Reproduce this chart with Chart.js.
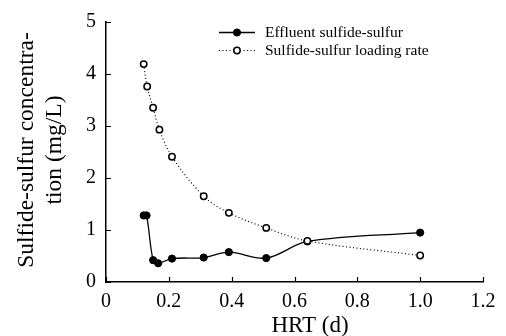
<!DOCTYPE html>
<html>
<head>
<meta charset="utf-8">
<script src="https://cdn.jsdelivr.net/npm/chart.js@4/dist/chart.umd.min.js"></script>
<style>
html,body{margin:0;padding:0;background:#fff;}
#wrap{width:506px;height:336px;position:relative;}
</style>
</head>
<body>
<div id="wrap"><canvas id="c" width="506" height="336"></canvas></div>
<script>
const effluentHRT = [0.120, 0.129, 0.150, 0.166, 0.210, 0.311, 0.391, 0.510, 0.641, 1.000];
const effluentS   = [1.28, 1.28, 0.42, 0.36, 0.45, 0.47, 0.575, 0.46, 0.78, 0.95];
const loadingHRT  = [0.120, 0.131, 0.150, 0.170, 0.210, 0.311, 0.391, 0.510, 0.641, 1.000];
const loadingS    = [4.19, 3.76, 3.35, 2.93, 2.41, 1.65, 1.33, 1.04, 0.79, 0.51];
const xTicks = [0, 0.2, 0.4, 0.6, 0.8, 1.0, 1.2];
const yTicks = [0, 1, 2, 3, 4, 5];
const seriesNames = ['Effluent sulfide-sulfur', 'Sulfide-sulfur loading rate'];
const xTitle = 'HRT (d)';
const yTitle = ['Sulfide-sulfur concentra-', 'tion (mg/L)'];

const FONT = '"Liberation Serif", "Times New Roman", serif';

const pts = (xs, ys) => xs.map((x, i) => ({x: x, y: ys[i]}));

const extras = {
  id: 'extras',
  afterDraw(chart) {
    const ctx = chart.ctx;
    const xs = chart.scales.x, ys = chart.scales.y;
    const a = chart.chartArea;
    ctx.save();
    // inward ticks
    ctx.strokeStyle = '#000';
    ctx.lineWidth = 1.2;
    ctx.beginPath();
    xTicks.forEach(v => {
      const p = Math.round(xs.getPixelForValue(v)) + 0.5;
      ctx.moveTo(p, a.bottom); ctx.lineTo(p, a.bottom - 5);
    });
    yTicks.forEach(v => {
      const p = Math.round(ys.getPixelForValue(v)) + 0.5;
      ctx.moveTo(a.left, p); ctx.lineTo(a.left + 5, p);
    });
    ctx.stroke();

    // legend
    const ds = chart.data.datasets;
    const rows = [32, 50];
    ds.forEach((d, i) => {
      const y = rows[i];
      ctx.save();
      ctx.strokeStyle = d.borderColor;
      ctx.lineWidth = d.borderWidth;
      ctx.setLineDash(d.borderDash || []);
      ctx.beginPath();
      ctx.moveTo(219, y + 0.5); ctx.lineTo(255, y + 0.5);
      ctx.stroke();
      ctx.setLineDash([]);
      ctx.beginPath();
      ctx.arc(237, y + 0.5, d.pointRadius, 0, Math.PI * 2);
      ctx.fillStyle = d.pointBackgroundColor;
      ctx.fill();
      ctx.lineWidth = d.pointBorderWidth;
      ctx.strokeStyle = d.pointBorderColor;
      ctx.stroke();
      ctx.restore();
      ctx.fillStyle = '#000';
      ctx.font = '15.5px ' + FONT;
      ctx.textBaseline = 'middle';
      ctx.textAlign = 'left';
      ctx.fillText(d.label, 265, y + 1);
    });

    // axis titles
    ctx.fillStyle = '#000';
    ctx.font = '23px ' + FONT;
    ctx.textAlign = 'center';
    ctx.textBaseline = 'alphabetic';
    ctx.fillText(xTitle, 310, 331.5);
    ctx.font = '23.5px ' + FONT;
    ctx.save();
    ctx.translate(33, 150);
    ctx.rotate(-Math.PI / 2);
    ctx.fillText(yTitle[0], 0, 0);
    ctx.restore();
    ctx.save();
    ctx.translate(61, 150);
    ctx.rotate(-Math.PI / 2);
    ctx.fillText(yTitle[1], 0, 0);
    ctx.restore();
    ctx.restore();
  }
};

new Chart(document.getElementById('c'), {
  type: 'line',
  data: {
    datasets: [
      {
        label: seriesNames[0],
        data: pts(effluentHRT, effluentS),
        borderColor: '#000',
        borderWidth: 1.3,
        pointRadius: 3.6,
        pointBackgroundColor: '#000',
        pointBorderColor: '#000',
        pointBorderWidth: 1,
        tension: 0.35,
        order: 1
      },
      {
        label: seriesNames[1],
        data: pts(loadingHRT, loadingS),
        borderColor: '#000',
        borderWidth: 1.2,
        borderDash: [1, 2.5],
        pointRadius: 3.2,
        pointBackgroundColor: '#fff',
        pointBorderColor: '#000',
        pointBorderWidth: 1.5,
        tension: 0.35,
        order: 0
      }
    ]
  },
  options: {
    responsive: false,
    animation: false,
    devicePixelRatio: 1,
    layout: {padding: {left: 0, right: 23, top: 17, bottom: 0}},
    plugins: {legend: {display: false}, tooltip: {enabled: false}},
    scales: {
      x: {
        type: 'linear',
        min: 0, max: 1.2,
        afterFit(s) { s.height = 54; },
        afterBuildTicks(s) { s.ticks = xTicks.map(v => ({value: v})); },
        grid: {display: true, drawOnChartArea: false, drawTicks: false},
        border: {display: true, color: '#000', width: 1.5},
        ticks: {
          color: '#000',
          padding: 8,
          maxRotation: 0,
          font: {family: FONT, size: 20},
          callback: v => (v === 0 ? '0' : v.toFixed(1))
        }
      },
      y: {
        type: 'linear',
        min: 0, max: 5,
        afterFit(s) { s.width = 106; },
        afterBuildTicks(s) { s.ticks = yTicks.map(v => ({value: v})); },
        grid: {display: true, drawOnChartArea: false, drawTicks: false},
        border: {display: true, color: '#000', width: 1.5},
        ticks: {
          color: '#000',
          padding: 10,
          font: {family: FONT, size: 20},
          callback: v => String(v)
        }
      }
    }
  },
  plugins: [extras]
});
</script>
</body>
</html>
